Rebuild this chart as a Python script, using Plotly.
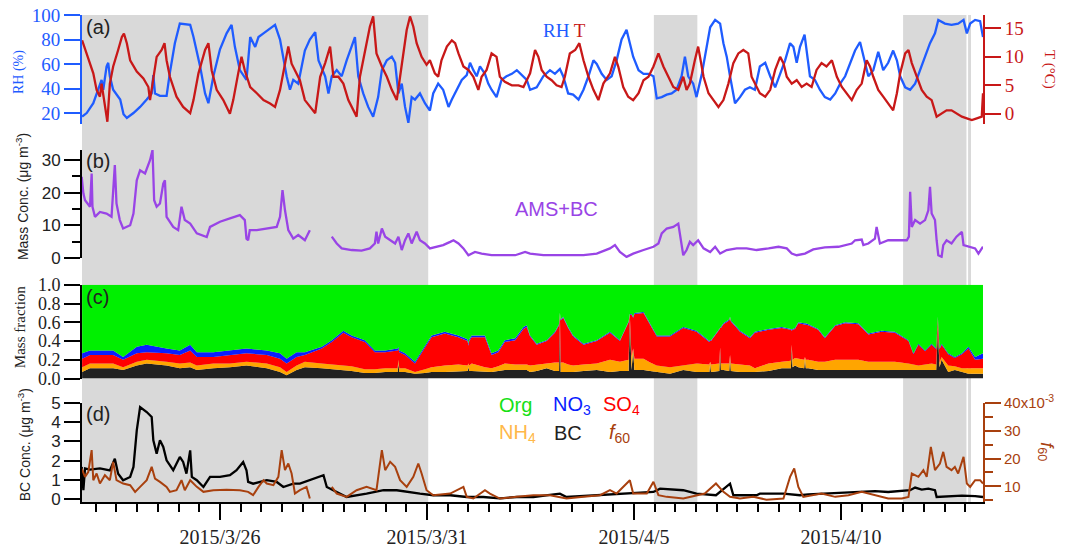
import pandas as pd
import plotly.graph_objects as go

# Time is stored as "day of March" (1 April = 32)
BASE = pd.Timestamp("2015-03-01")


def to_time(days):
    return [(BASE + pd.Timedelta(days=d - 1)).strftime("%Y-%m-%d %H:%M:%S") for d in days]


# ---------------- panel (a): RH and T ----------------
rh_day = [22.67, 22.78, 22.94, 23.06, 23.14, 23.18, 23.26, 23.30, 23.34, 23.42, 23.59, 23.67, 23.75, 23.91, 24.07, 24.23,
          24.35, 24.39, 24.43, 24.55, 24.71, 24.79, 24.91, 25.03, 25.28, 25.36, 25.52, 25.64, 25.72, 25.84, 26.00, 26.16,
          26.28, 26.36, 26.48, 26.64, 26.73, 26.85, 26.93, 27.05, 27.21, 27.33, 27.45, 27.61, 27.69, 27.77, 27.89,
          28.05, 28.17, 28.30, 28.38, 28.46, 28.54, 28.62, 28.70, 28.82, 28.94, 29.06, 29.18, 29.26, 29.34, 29.46, 29.58,
          29.70, 29.82, 29.91, 30.03, 30.15, 30.23, 30.31, 30.39, 30.47, 30.55, 30.63, 30.71, 30.83, 30.95, 31.07, 31.15,
          31.27, 31.39, 31.52, 31.60, 31.72, 31.84, 31.96, 32.04, 32.12, 32.20, 32.28, 32.40, 32.48, 32.56, 32.68, 32.80,
          32.92, 33.05, 33.17, 33.29, 33.41,
          33.49, 33.65, 33.81, 33.97, 34.09, 34.21, 34.29, 34.41, 34.53, 34.66, 34.78, 34.90, 35.02, 35.10, 35.22, 35.34,
          35.46, 35.58, 35.70, 35.82, 35.90, 35.98, 36.11, 36.23, 36.35, 36.47, 36.55, 36.67, 36.79, 36.91, 37.03, 37.15,
          37.23, 37.31, 37.43, 37.51, 37.64, 37.76, 37.84, 37.96, 38.08, 38.16, 38.24, 38.32, 38.44, 38.56, 38.68, 38.80,
          38.92, 39.04, 39.17, 39.29, 39.41, 39.53, 39.65, 39.77, 39.85, 39.93, 40.01, 40.12, 40.17, 40.25, 40.37, 40.49,
          40.61, 40.74, 40.86, 40.98, 41.10, 41.22, 41.34, 41.46, 41.54, 41.66, 41.78, 41.90, 42.02, 42.14, 42.26, 42.35,
          42.43, 42.55, 42.67, 42.79, 42.91, 43.03, 43.15, 43.27, 43.35, 43.51, 43.67, 43.83, 43.96, 44.04, 44.12, 44.24,
          44.36, 44.43]
rh_val = [17, 20, 28, 39, 47, 39, 58, 61, 50, 39, 31, 19, 16, 20, 25, 31, 36, 51, 36, 34, 34, 53, 77, 93, 92, 82, 58, 36,
          28, 50, 72, 85, 92, 74, 55, 47, 82, 74, 82, 85, 89, 92, 80, 50, 39, 47, 44,
          71, 80, 86, 63, 56, 50, 36, 50, 55, 50, 63, 74, 82, 50, 36, 25, 17, 33, 55, 63, 66, 61, 36, 44, 25, 12, 33, 31,
          36, 28, 22, 36, 44, 39, 25, 31, 39, 47, 51, 61, 55, 50, 58, 52, 44, 39, 33, 47, 50, 52, 55, 51, 47,
          39, 41, 50, 55, 52, 56, 50, 36, 35, 31, 39, 50, 63, 60, 52, 47, 50, 63, 80, 88, 77, 66, 55, 52, 52, 50, 32, 33,
          35, 36, 39, 50, 66, 50, 44, 33, 52, 77, 90, 96, 93, 77, 66, 50, 28, 33, 39, 41,
          39, 58, 61, 50, 41, 52, 63, 77, 74, 61, 74, 84, 71, 50, 47, 39, 33, 31, 36, 44, 50, 61, 71, 78, 66, 50, 55, 70,
          55, 61, 71, 63, 50, 41, 39, 44, 55, 66, 77, 85, 96, 93, 92, 93, 96, 85, 93, 96, 95, 82]

t_day = [22.67, 22.78, 22.94, 23.02, 23.10, 23.14, 23.22, 23.28, 23.34, 23.42, 23.54, 23.63, 23.68, 23.75, 23.83, 23.99,
         24.15, 24.27, 24.31, 24.39, 24.47, 24.59, 24.66, 24.71, 24.79, 24.95, 25.11, 25.28, 25.36, 25.48, 25.64, 25.72,
         25.80, 25.92, 26.08, 26.24, 26.32, 26.44, 26.52, 26.60, 26.73, 26.89, 27.05, 27.21, 27.33, 27.45, 27.57, 27.65,
         27.73, 27.85, 27.93,
         28.05, 28.17, 28.30, 28.42, 28.54, 28.66, 28.74, 28.86, 28.98, 29.10, 29.22, 29.30, 29.38, 29.50, 29.62, 29.70,
         29.78, 29.91, 30.03, 30.15, 30.27, 30.35, 30.43, 30.51, 30.59, 30.67, 30.75, 30.87, 30.99, 31.07, 31.19, 31.27,
         31.35, 31.48, 31.60, 31.68, 31.76, 31.88, 32.00, 32.12, 32.24, 32.32, 32.44, 32.56, 32.68, 32.76, 32.88, 33.05,
         33.21, 33.33, 33.45,
         33.49, 33.61, 33.69, 33.77, 33.89, 34.01, 34.13, 34.25, 34.33, 34.45, 34.58, 34.68, 34.78, 34.90, 35.02, 35.14,
         35.26, 35.42, 35.54, 35.62, 35.74, 35.86, 35.98, 36.11, 36.23, 36.35, 36.47, 36.59, 36.71, 36.83, 36.95, 37.07,
         37.19, 37.27, 37.35, 37.47, 37.55, 37.68, 37.80, 37.92, 38.04, 38.16, 38.28, 38.40, 38.52, 38.64, 38.76, 38.84,
         38.92, 39.04, 39.17, 39.29, 39.41, 39.53, 39.61, 39.69, 39.81, 39.93, 40.05, 40.17, 40.29, 40.41, 40.53, 40.65,
         40.78, 40.90, 41.02, 41.14, 41.26, 41.38, 41.50, 41.62, 41.70, 41.78, 41.90, 42.02, 42.14, 42.26, 42.35, 42.43,
         42.55, 42.63, 42.71, 42.83, 42.95, 43.07, 43.19, 43.31, 43.43, 43.55, 43.67, 43.79, 43.92, 44.04, 44.16, 44.28,
         44.40, 44.43]
t_val = [12.9, 10.6, 7.1, 4.2, 3.0, 5.3, 1.2, -1.4, 5.3, 8.3, 11.2, 13.5, 14.1, 12.4, 9.4, 7.4, 6.2, 4.7, 2.4, 5.9,
         10.0, 11.2, 12.4, 9.4, 6.5, 3.0, 1.2, 0.1, 2.4, 7.1, 11.2, 12.4, 7.6, 4.2, 2.4, 0.0, 2.4, 7.1, 10.0, 7.6,
         4.7, 3.6, 2.4, 1.8, 1.2, 4.2, 8.8, 11.8, 8.8, 7.1, 5.9,
         2.4, 1.2, 0.1, 6.5, 8.9, 11.8, 6.5, 6.5, 5.3, 2.4, 0.6, -0.5, 6.5, 11.2, 15.3, 17.1, 10.6, 8.3, 6.5, 4.2,
         2.4, 6.5, 10.6, 14.7, 17.1, 15.3, 12.4, 10.0, 8.6, 9.4, 7.1, 6.5, 9.4, 11.8, 12.9, 12.4, 10.6, 8.3, 7.7, 6.5,
         4.2, 6.5, 7.7, 10.6, 10.0, 6.5, 5.6, 5.0, 5.0, 4.7, 6.5,
         7.1, 11.2, 10.0, 7.7, 6.5, 5.9, 5.0, 4.7, 6.5, 10.6, 11.2, 12.4, 9.4, 6.5, 4.2, 2.4, 5.3, 7.1, 10.0, 8.3,
         4.7, 3.0, 2.4, 3.6, 5.9, 6.5, 8.3, 10.6, 8.3, 6.5, 4.7, 4.2, 6.5, 4.2, 5.3, 9.4, 11.8, 6.5, 3.6, 2.4,
         1.2, 2.4, 5.3, 8.9, 10.6, 11.2, 10.6, 6.5,
         5.3, 3.6, 3.0, 4.2, 7.7, 10.0, 8.9, 6.5, 5.3, 5.9, 4.7, 5.3, 4.7, 7.7, 8.9, 8.3, 9.4, 6.5, 4.7, 3.6,
         2.4, 4.2, 5.3, 9.4, 8.3, 6.5, 4.2, 3.0, 1.8, 0.6, 3.6, 7.1, 10.6, 11.2, 8.9, 6.5, 4.2, 3.0, 2.4, -0.5,
         0.1, 0.6, 0.6, 0.1, -0.5, -0.8, -1.1, -0.8, -0.5, 3.6]

# ---------------- panel (b): AMS+BC mass concentration ----------------
mass_day = [22.66, 22.70, 22.74, 22.80, 22.86, 22.90, 22.92, 22.98, 23.10, 23.26, 23.38, 23.46, 23.50, 23.58, 23.66,
            23.83, 23.91, 23.99, 24.07, 24.19, 24.31, 24.37, 24.41, 24.47, 24.55, 24.63, 24.67, 24.71, 24.87, 24.99,
            25.07, 25.15, 25.28, 25.44, 25.68, 25.76, 26.00, 26.24, 26.48, 26.60, 26.64, 26.68, 26.72, 26.89, 27.13,
            27.37, 27.45, 27.51, 27.57, 27.65, 27.77, 27.89,
            28.05, 28.13, 28.17, 28.40, 28.70, 28.82, 28.94, 29.18, 29.42, 29.62, 29.74, 29.78, 29.82, 29.91, 29.99,
            30.11, 30.23, 30.31, 30.39, 30.47, 30.55, 30.63, 30.75, 30.83, 30.95, 31.07, 31.23, 31.39, 31.56, 31.64,
            31.76, 31.88, 32.00, 32.16, 32.32, 32.56, 32.88, 33.13, 33.37,
            33.49, 33.81, 34.13, 34.45, 34.78, 35.10, 35.42, 35.54, 35.66, 35.82, 35.98, 36.23, 36.47, 36.59, 36.67,
            36.79, 36.95, 37.07, 37.13, 37.19, 37.27, 37.35, 37.43, 37.55, 37.68, 37.84, 37.96, 38.08, 38.24, 38.48,
            38.72, 38.96,
            39.25, 39.49, 39.69, 39.81, 39.93, 40.13, 40.33, 40.61, 40.94, 41.26, 41.34, 41.50, 41.54, 41.66, 41.82,
            41.86, 41.94, 42.14, 42.39, 42.59, 42.64, 42.67, 42.71, 42.79, 42.91, 43.03, 43.11, 43.15, 43.19, 43.27,
            43.31, 43.35, 43.43, 43.47, 43.55, 43.67, 43.79, 43.92, 43.96, 44.08, 44.24, 44.32, 44.43]
mass_val = [24.9, 19.8, 17.7, 16.7, 15.7, 25.9, 15.7, 12.6, 14.1, 13.6, 12.6, 28.5, 16.7, 11.6, 9.0,
            10.0, 13.6, 23.8, 26.9, 25.9, 30.0, 33.1, 17.7, 15.7, 16.7, 22.8, 23.8, 12.6, 9.5, 8.5,
            15.7, 11.6, 10.5, 7.5, 6.4, 9.5, 11.1, 12.1, 13.1, 11.6, 5.9, 5.4, 8.5, 8.5, 9.0,
            9.5, 12.6, 20.8, 14.6, 8.5, 5.9, 7.0,
            5.4, 7.5, 8.5, None, 6.5, 4.4, 2.9, 2.4, 2.2, 2.9, 4.4, 8.0, 4.4, 9.0, 6.5,
            5.4, 4.4, 6.5, 2.4, 5.4, 7.5, 4.4, 8.0, 5.4, 4.4, 2.9, 3.4, 3.9, 4.9, 5.4,
            4.4, 2.9, 0.8, 1.8, 1.3, 0.8, 0.8, 0.8, 1.8,
            1.3, 0.8, 0.8, 1.0, 0.8, 1.3, 2.9, 3.9, 1.8, 0.3, 1.3, 2.4, 3.4, 4.4, 7.5,
            9.0, 9.5, 10.5, 5.4, 0.8, 2.4, 4.9, 3.9, 5.4, 2.9, 1.8, 3.4, 1.3, 2.4, 2.9,
            2.9, 2.4,
            2.9, 3.4, 2.9, 1.3, 0.8, 1.3, 2.6, 3.2, 3.4, 4.4, 5.4, 5.6, 3.9, 4.4, 5.9,
            9.5, 4.4, 5.4, 5.4, 5.4, 6.5, 20.3, 9.5, 11.6, 10.5, 11.6, 14.6, 21.8, 13.6, 11.6,
            5.4, 0.8, 0.3, 3.9, 5.4, 4.4, 6.5, 8.0, 3.9, 3.4, 2.9, 1.3, 3.4]

# ---------------- panel (c): mass fractions ----------------
frac_day = [22.67, 22.86, 23.42, 23.66, 23.99, 24.23, 24.71, 25.03, 25.28, 25.44,
            25.84, 26.24, 26.64, 27.13, 27.45, 27.61, 27.85, 28.05, 28.46, 28.70,
            28.98, 29.18, 29.50, 29.74, 29.99, 30.29, 30.31, 30.33, 30.47, 30.71,
            30.95, 31.11, 31.43, 31.76, 31.98, 32.00, 32.02, 32.08, 32.40, 32.56,
            32.72, 32.88, 33.13, 33.33, 33.41, 33.49, 33.65, 33.89, 34.09, 34.19,
            34.21, 34.23, 34.29, 34.41, 34.53, 34.78, 35.10, 35.42, 35.66, 35.87,
            35.90, 35.94, 35.98, 36.01, 36.23, 36.39, 36.55, 36.87, 37.19, 37.51,
            37.82, 37.84, 37.86, 38.06, 38.08, 38.10, 38.16, 38.30, 38.32, 38.34,
            38.56, 38.80, 38.92, 39.25, 39.57, 39.79, 39.81, 39.83, 39.89, 39.97,
            40.11, 40.13, 40.15, 40.21, 40.45, 40.61, 40.86, 41.10, 41.42, 41.66,
            41.98, 42.30, 42.63, 42.75, 42.87, 43.03, 43.19, 43.30, 43.34, 43.38,
            43.43, 43.59, 43.75, 43.92, 44.08, 44.24, 44.43]
frac_bc = [.07, .11, .11, .09, .14, .16, .14, .11, .12, .09,
           .11, .12, .14, .11, .07, .035, .09, .12, .11, .10,
           .09, .08, .06, .06, .07, .07, .16, .07, .07, .05,
           .06, .07, .07, .08, .08, .12, .08, .08, .07, .07,
           .08, .09, .09, .09, .09, .07, .08, .11, .08, .08,
           .69, .07, .07, .07, .07, .08, .09, .07, .08, .08,
           .66, .09, .30, .09, .09, .08, .07, .05, .09, .07,
           .07, .16, .07, .08, .32, .09, .09, .08, .23, .08,
           .07, .07, .07, .08, .11, .11, .34, .12, .14, .12,
           .11, .21, .11, .11, .09, .09, .09, .09, .09, .09,
           .09, .09, .09, .09, .09, .09, .09, .09, .52, .12,
           .20, .07, .09, .07, .05, .05, .05]
frac_nh4 = [.05, .05, .05, .03, .04, .04, .04, .05, .05, .05,
            .05, .04, .04, .05, .05, .035, .05, .06, .05, .05,
            .05, .05, .04, .04, .04, .04, .04, .04, .04, .02,
            .04, .05, .07, .07, .06, .04, .06, .08, .05, .04,
            .05, .07, .06, .06, .06, .07, .07, .05, .09, .09,
            0, .10, .10, .08, .07, .07, .07, .13, .10, .12,
            .01, .14, .02, .12, .12, .09, .07, .07, .05, .09,
            .08, .02, .08, .08, .01, .07, .07, .08, .02, .08,
            .08, .07, .04, .08, .07, .08, .02, .08, .08, .09,
            .09, .02, .09, .09, .09, .09, .11, .11, .11, .09,
            .09, .09, .07, .06, .05, .06, .07, .06, .03, .05,
            .03, .07, .04, .04, .06, .06, .06]
frac_so4 = [.09, .09, .09, .08, .09, .08, .09, .09, .13, .09,
            .07, .09, .09, .09, .09, .09, .09, .07, .16, .24,
            .35, .31, .29, .18, .17, .19, .12, .17, .14, .09,
            .22, .32, .34, .29, .26, .19, .26, .28, .32, .14,
            .15, .23, .26, .38, .40, .31, .21, .24, .32, .40,
            0, .45, .48, .39, .31, .21, .24, .29, .22, .40,
            .01, .45, .33, .48, .49, .41, .31, .33, .40, .34,
            .24, .22, .25, .36, .21, .38, .42, .46, .40, .45,
            .35, .29, .38, .36, .36, .33, .15, .32, .31, .38,
            .38, .35, .38, .37, .34, .25, .36, .39, .38, .29,
            .32, .31, .24, .11, .22, .14, .20, .16, .10, .14,
            .13, .12, .09, .15, .21, .09, .10]
frac_no3 = [.06, .05, .05, .03, .07, .08, .05, .05, .06, .05,
            .05, .05, .05, .05, .06, .05, .05, .03, .02, .02,
            .02, .02, .02, .02, .02, .02, .02, .02, .02, .02,
            .02, .02, .02, .02, .02, .02, .02, .02, .02, .02,
            .02, .02, .02, .02, .02, .01, .01, .01, .01, .01,
            .01, .01, .01, .01, .01, .01, .01, .01, .01, .01,
            .01, .01, .01, .01, .01, .01, .01, .01, .01, .01,
            .01, .01, .01, .01, .01, .01, .01, .01, .01, .01,
            .01, .01, .01, .01, .01, .01, .01, .01, .01, .01,
            .01, .01, .01, .01, .01, .01, .01, .01, .01, .01,
            .01, .01, .01, .01, .01, .01, .01, .01, .01, .01,
            .01, .01, .01, .01, .02, .03, .06]
frac_org = [.73, .70, .70, .77, .66, .64, .68, .70, .64, .72,
            .72, .70, .68, .70, .73, .79, .72, .72, .66, .59,
            .49, .54, .59, .70, .70, .68, .66, .70, .73, .82,
            .66, .54, .50, .54, .58, .63, .58, .54, .54, .73,
            .70, .59, .57, .45, .43, .54, .63, .59, .50, .42,
            .30, .37, .34, .45, .54, .63, .59, .50, .59, .39,
            .31, .31, .34, .30, .29, .41, .54, .54, .45, .49,
            .60, .59, .59, .47, .45, .45, .41, .37, .34, .38,
            .49, .56, .50, .47, .45, .47, .48, .47, .46, .40,
            .41, .41, .41, .42, .47, .56, .43, .40, .41, .52,
            .49, .50, .59, .73, .63, .70, .63, .68, .34, .68,
            .63, .73, .77, .73, .66, .77, .73]

# ---------------- panel (d): BC concentration and f60 ----------------
bc_day = [22.66, 22.70, 22.74, 22.86, 23.10, 23.34, 23.46, 23.54, 23.66, 23.83, 23.91, 23.99, 24.07, 24.23, 24.35,
          24.39, 24.47, 24.55, 24.63, 24.71, 24.87, 25.03, 25.11, 25.19, 25.28, 25.32, 25.44, 25.60, 25.76, 26.00,
          26.24, 26.40, 26.56, 26.64, 26.68, 26.80, 27.13, 27.37, 27.53, 27.77,
          27.93, 28.17, 28.42, 28.50, 28.58, 28.74, 29.06, 29.54, 29.95, 30.27, 30.51, 30.83, 31.15, 31.56, 31.96,
          32.36, 32.76, 33.17, 33.57, 34.21, 34.37, 35.18, 35.98, 36.47, 36.63, 37.19, 37.51, 37.98, 38.32, 38.40,
          38.96, 39.04, 39.61, 40.01,
          40.21, 40.53, 40.86, 41.18, 41.50, 41.82, 42.14, 42.47, 42.67, 42.79, 42.95, 43.11, 43.27, 43.31, 43.59,
          43.92, 44.24, 44.43]
bc_val = [1.68, 0.47, 1.60, 1.54, 1.60, 1.50, 2.10, 1.33, 0.99, 1.16, 1.68, 3.58, 4.79, 4.53, 4.27,
          3.06, 2.37, 3.06, 2.72, 2.02, 1.51, 2.20, 1.94, 1.33, 2.54, 1.16, 0.99, 0.64, 1.16, 1.16,
          1.25, 1.51, 1.94, 1.51, 0.90, 0.81, 0.99, 0.90, 0.64, 0.81,
          0.81, 0.99, 1.16, 1.25, 0.64, 0.47, 0.12, 0.29, 0.47, 0.47, 0.38, 0.29, 0.21, 0.21, 0.12,
          0.12, 0.05, 0.12, 0.12, 0.29, 0.12, 0.21, 0.29, 0.38, 0.55, 0.47, 0.29, 0.21, 0.81, 0.21,
          0.21, 0.29, 0.29, 0.21,
          0.26, 0.29, 0.33, 0.35, 0.38, 0.42, 0.38, 0.43, 0.47, 0.61, 0.50, 0.55, 0.47, 0.12, 0.16,
          0.19, 0.16, 0.12]

f60_day = [22.66, 22.74, 22.82, 22.90, 22.94, 23.02, 23.10, 23.22, 23.34, 23.42, 23.50, 23.66, 23.83, 23.95, 24.07,
           24.23, 24.35, 24.43, 24.55, 24.71, 24.79, 24.95, 25.07, 25.15, 25.28, 25.44, 25.60, 25.84, 26.16, 26.48,
           26.68, 26.80, 26.93, 27.05, 27.13, 27.29, 27.41, 27.49, 27.57, 27.65, 27.73, 27.81,
           27.93, 28.09, 28.17, 28.40, 28.70, 28.82, 29.06, 29.30, 29.54, 29.78, 29.91, 29.99, 30.11, 30.23, 30.35,
           30.51, 30.67, 30.79, 30.87, 30.99, 31.15, 31.56, 31.88, 31.96, 32.12, 32.40, 32.52, 32.76, 33.17, 33.57,
           33.97, 34.37, 34.78, 35.18, 35.42, 35.58, 35.90, 35.98, 36.31, 36.47, 36.59, 36.79, 37.19, 37.59, 37.71,
           37.98, 38.16, 38.32, 38.56, 38.88, 39.20, 39.61, 39.77, 39.87, 39.97, 40.09,
           40.29, 40.53, 40.86, 41.18, 41.50, 41.82, 42.14, 42.47, 42.63, 42.71, 42.87, 42.99, 43.07, 43.17, 43.27,
           43.39, 43.47, 43.55, 43.67, 43.75, 43.83, 43.96, 44.04, 44.12, 44.24, 44.36, 44.43]
f60_val = [16.4, 13.4, 15.2, 23.0, 12.2, 14.6, 11.0, 14.0, 12.2, 18.8, 12.2, 11.0, 10.4, 8.0, 9.8,
           12.2, 17.0, 12.8, 11.6, 9.8, 8.0, 8.6, 12.2, 8.6, 12.2, 9.8, 8.0, 8.6, 8.8, 8.6,
           8.0, 6.8, 9.8, 12.2, 11.0, 10.4, 13.4, 23.0, 15.8, 18.2, 14.6, 7.4,
           8.6, 9.8, 5.6, None, 9.8, 7.4, 6.2, 8.6, 9.8, 8.6, 23.0, 15.8, 18.8, 17.0, 12.2,
           9.8, 13.4, 18.2, 14.6, 8.6, 6.8, 7.4, 9.8, 6.2, 5.6, 8.6, 7.4, 5.6, 6.2, 6.8,
           6.8, 5.6, 6.2, 6.8, 8.6, 7.4, 12.2, 7.4, 7.4, 11.6, 6.8, 6.2, 5.6, 6.8, 7.4,
           11.0, 8.0, 6.2, 5.6, 6.2, 5.2, 5.6, 13.4, 16.4, 9.8, 6.2,
           6.8, 7.4, 6.2, 6.8, 8.0, 6.8, 5.6, 5.6, 6.2, 14.6, 13.4, 15.8, 13.4, 24.2, 15.8,
           18.2, 22.4, 17.0, 15.8, 17.0, 14.6, 20.6, 11.0, 9.8, 12.2, 12.2, 11.0]  # in units of 1e-3

# shaded periods (start, end) in day-of-March
shade_periods = [(22.667, 31.03), (36.48, 37.53), (42.50, 44.03), (44.07, 44.14)]

x_range_days = [22.667, 44.43]
xtick_days = [26, 31, 36, 41]
xtick_labels = ["2015/3/26", "2015/3/31", "2015/4/5", "2015/4/10"]

rh_ticks = [20, 40, 60, 80, 100]
t_ticks = [0, 5, 10, 15]
mass_ticks = [0, 10, 20, 30]
frac_ticks = [0, 0.2, 0.4, 0.6, 0.8, 1.0]
frac_ticklabels = ["0.0", "0.2", "0.4", "0.6", "0.8", "1.0"]
bc_ticks = [0, 1, 2, 3, 4, 5]
f60_ticks = [10, 20, 30, 40]
f60_ticklabels = ["10", "20", "30", "40x10<sup>-3</sup>"]

# ---------------- styling ----------------
SERIF = "Liberation Serif"
SANS = "Liberation Sans"
RH_C = "#1f5cff"
T_C = "#c81818"
PURPLE = "#9944e6"
ORG_C = "#00f000"
NO3_C = "#0a1eff"
SO4_C = "#ff0000"
NH4_C = "#ffa500"
BC_C = "#222222"
F60_C = "#a8400e"
SHADE = "#d9d9d9"

fig = go.Figure()

fig.add_trace(go.Scatter(x=to_time(rh_day), y=rh_val, xaxis="x2", yaxis="y", mode="lines",
                         line=dict(color=RH_C, width=2.3)))
fig.add_trace(go.Scatter(x=to_time(t_day), y=t_val, xaxis="x2", yaxis="y5", mode="lines",
                         line=dict(color=T_C, width=2.3)))
fig.add_trace(go.Scatter(x=to_time(mass_day), y=mass_val, xaxis="x3", yaxis="y2", mode="lines",
                         connectgaps=False, line=dict(color=PURPLE, width=2.3)))

ftime = to_time(frac_day)
for vals, col in [(frac_bc, BC_C), (frac_nh4, NH4_C), (frac_so4, SO4_C), (frac_no3, NO3_C), (frac_org, ORG_C)]:
    fig.add_trace(go.Scatter(x=ftime, y=vals, xaxis="x4", yaxis="y3", mode="lines", stackgroup="frac",
                             line=dict(width=0, color=col), fillcolor=col))

fig.add_trace(go.Scatter(x=to_time(bc_day), y=bc_val, xaxis="x", yaxis="y4", mode="lines",
                         line=dict(color="black", width=2.3)))
fig.add_trace(go.Scatter(x=to_time(f60_day), y=f60_val, xaxis="x", yaxis="y6", mode="lines",
                         connectgaps=False, line=dict(color=F60_C, width=2)))

# geometry (paper fractions)
PLOT_TOP = 15
PLOT_BOT = 501.7
H = PLOT_BOT - PLOT_TOP
W = 901
L = 82


def py(ypx):
    return (PLOT_BOT - ypx) / H


def px(xpx):
    return (xpx - L) / W


xr = to_time(x_range_days)
xbase = dict(type="date", range=xr, showgrid=False, zeroline=False, automargin=False)


def yax(**kw):
    d = dict(showgrid=False, zeroline=False, ticks="outside", ticklen=16, tickwidth=2, showline=True, linewidth=2,
             automargin=False)
    d.update(kw)
    return d


fig.update_layout(
    width=1068, height=550,
    margin=dict(l=L, r=1068 - L - W, t=PLOT_TOP, b=550 - PLOT_BOT, autoexpand=False),
    paper_bgcolor="white", plot_bgcolor="rgba(0,0,0,0)",
    showlegend=False,
    xaxis=dict(**xbase, anchor="y4", domain=[0, 1], showline=True, linecolor="black", linewidth=2,
               ticks="outside", ticklen=16, tickwidth=2, tickcolor="black",
               tickmode="array", tickvals=to_time(xtick_days), ticktext=xtick_labels, ticklabelstandoff=0,
               tickfont=dict(family=SERIF, size=20, color="#222222"),
               minor=dict(ticks="outside", ticklen=8, tickwidth=2, tickcolor="black",
                          tickmode="linear", tick0="2015-03-22 12:00:00", dtick=12 * 3600 * 1000)),
    xaxis2=dict(**xbase, anchor="y", domain=[0, 1], matches="x", visible=False),
    xaxis3=dict(**xbase, anchor="y2", domain=[0, 1], matches="x", visible=False),
    xaxis4=dict(**xbase, anchor="y3", domain=[0, 1], matches="x", visible=False),
    yaxis=yax(domain=[py(124), 1], range=[11.0, 100], anchor="x2", tickvals=rh_ticks,
              linecolor=RH_C, tickcolor=RH_C, tickfont=dict(family=SERIF, size=19, color=RH_C)),
    yaxis5=yax(overlaying="y", side="right", anchor="x2", range=[-1.81, 17.35], tickvals=t_ticks,
               linecolor=T_C, tickcolor=T_C, tickfont=dict(family=SERIF, size=19, color=T_C)),
    yaxis2=yax(domain=[py(258), py(150)], range=[-0.1, 33.1], anchor="x3", tickvals=mass_ticks,
               linecolor="black", tickcolor="black", tickfont=dict(family=SANS, size=17, color="#222222"),
               minor=dict(ticks="outside", ticklen=8, tickwidth=2, tickcolor="black",
                          tickmode="linear", tick0=0, dtick=5)),
    yaxis3=yax(domain=[py(378.3), py(284.7)], range=[0, 1], anchor="x4", tickvals=frac_ticks,
               ticktext=frac_ticklabels, linecolor="black", tickcolor="black",
               tickfont=dict(family=SERIF, size=18, color="#222222")),
    yaxis4=yax(domain=[0, py(402.7)], range=[-0.14, 5.0], anchor="x", tickvals=bc_ticks,
               linecolor="black", tickcolor="black", tickfont=dict(family=SANS, size=17, color="#222222")),
    yaxis6=yax(overlaying="y4", side="right", anchor="x", range=[4.35, 40], tickvals=f60_ticks,
               ticktext=f60_ticklabels, linecolor=F60_C, tickcolor=F60_C,
               tickfont=dict(family=SANS, size=15, color=F60_C),
               minor=dict(ticks="outside", ticklen=8, tickwidth=2, tickcolor=F60_C,
                          tickmode="linear", tick0=0, dtick=5)),
)

for a, b in shade_periods:
    s, e = to_time([a, b])
    fig.add_shape(type="rect", xref="x", yref="paper", x0=s, x1=e, y0=0, y1=1,
                  fillcolor=SHADE, line=dict(width=0), layer="below")


def ann(text, x, y, size, color, family=SANS, xanchor="left", angle=0):
    fig.add_annotation(text=text, xref="paper", yref="paper", x=x, y=y, xanchor=xanchor, yanchor="middle",
                       showarrow=False, textangle=angle, font=dict(family=family, size=size, color=color))


# panel letters
ann("(a)", px(84), py(27), 20, "#222222")
ann("(b)", px(84), py(161), 20, "#222222")
ann("(c)", px(84), py(297), 20, "#222222")
ann("(d)", px(84), py(414), 20, "#222222")

# in-panel labels
ann("<span style='color:%s'>RH</span> <span style='color:%s'>T</span>" % (RH_C, T_C), px(541), py(30), 19,
    RH_C, family=SERIF)
ann("AMS+BC", px(556), py(209), 20, PURPLE, xanchor="center")

# composition legend
ann("Org", px(497), py(405), 20, "#16e016")
ann("NO<sub>3</sub>", px(551), py(405), 20, NO3_C)
ann("SO<sub>4</sub>", px(601), py(405), 20, SO4_C)
ann("NH<sub>4</sub>", px(497), py(433), 20, "#ffb84a")
ann("BC", px(552), py(433), 20, "#222222")
ann("<i>f</i><sub>60</sub>", px(607), py(433), 20, F60_C)

# axis titles
ann("RH (%)", px(19), py(72), 14, RH_C, family=SERIF, xanchor="center", angle=-90)
ann("T (°C)", px(1050), py(69), 15, T_C, family=SERIF, xanchor="center", angle=90)
ann("Mass Conc. (μg m<sup>-3</sup>)", px(22), py(196), 14, "#222222", xanchor="center", angle=-90)
ann("Mass fraction", px(20), py(327), 15, "#222222", family=SERIF, xanchor="center", angle=-90)
ann("BC Conc. (μg m<sup>-3</sup>)", px(24), py(445), 14, "#222222", xanchor="center", angle=-90)
ann("<i>f</i><sub>60</sub>", px(1046), py(451), 18, F60_C, xanchor="center", angle=90)

# the page's default 8px body margin would shift the figure; remove it
fig.write_html("out.html", config={"displayModeBar": False},
               post_script="document.body.style.margin='0px';")
